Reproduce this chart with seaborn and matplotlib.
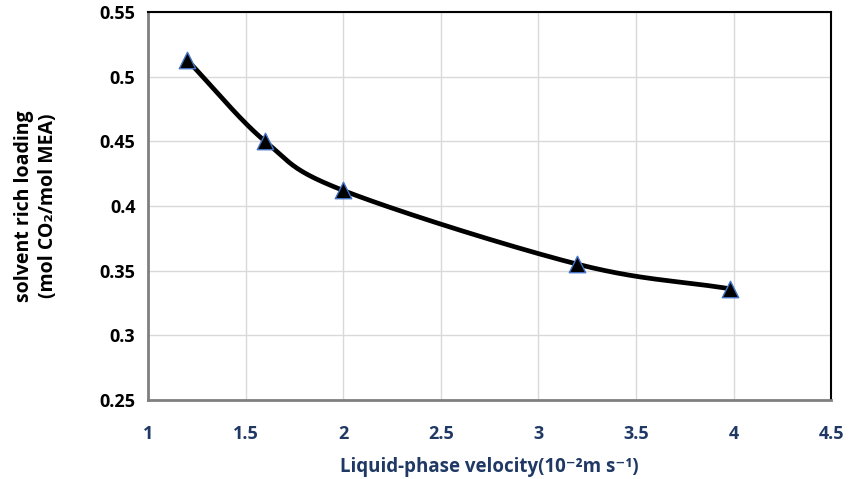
import numpy as np
import pandas as pd
import matplotlib
matplotlib.use("Agg")
import matplotlib.pyplot as plt
import seaborn as sns

# Measured data
velocity = [1.2, 1.6, 2.0, 3.2, 3.98]
rich_loading = [0.513, 0.450, 0.412, 0.355, 0.336]

x_ticks = [1, 1.5, 2, 2.5, 3, 3.5, 4, 4.5]
y_ticks = [0.25, 0.3, 0.35, 0.4, 0.45, 0.5, 0.55]


def catmull_rom(xs, ys, n=40):
    """Smooth curve through the points (uniform Catmull-Rom)."""
    pts = np.column_stack([xs, ys]).astype(float)
    p = np.vstack([2 * pts[0] - pts[1], pts, 2 * pts[-1] - pts[-2]])
    out = []
    for i in range(1, len(p) - 2):
        p0, p1, p2, p3 = p[i - 1], p[i], p[i + 1], p[i + 2]
        t = np.linspace(0, 1, n, endpoint=False)[:, None]
        seg = 0.5 * ((2 * p1) + (-p0 + p2) * t + (2 * p0 - 5 * p1 + 4 * p2 - p3) * t ** 2
                     + (-p0 + 3 * p1 - 3 * p2 + p3) * t ** 3)
        out.append(seg)
    out.append(pts[-1][None, :])
    return np.vstack(out)


sns.set_theme(style="white")
plt.rcParams["font.family"] = ["Open Sans", "DejaVu Sans"]

curve = catmull_rom(velocity, rich_loading)
curve_df = pd.DataFrame({"v": curve[:, 0], "load": curve[:, 1]})
pts_df = pd.DataFrame({"v": velocity, "load": rich_loading})

fig = plt.figure(figsize=(8.49, 4.79), dpi=100)
ax = fig.add_axes([0.1743, 0.165, 0.8047, 0.81])

sns.lineplot(data=curve_df, x="v", y="load", ax=ax, color="black", linewidth=3.4,
             sort=False, estimator=None, zorder=3)
sns.scatterplot(data=pts_df, x="v", y="load", ax=ax, marker="^", s=140,
                color="black", edgecolor="#4472C4", linewidth=1.0, zorder=4)

ax.set_xlim(1, 4.5)
ax.set_ylim(0.25, 0.55)
ax.set_xticks(x_ticks)
ax.set_yticks(y_ticks)
ax.set_xticklabels([f"{t:g}" for t in x_ticks], fontsize=13, fontweight="bold", color="#1F3864")
ax.set_yticklabels([f"{t:g}" for t in y_ticks], fontsize=13, fontweight="bold", color="black")
ax.tick_params(axis="x", length=0, pad=18)
ax.tick_params(axis="y", length=0, pad=9)

ax.grid(True, color="#d9d9d9", linewidth=1.0)
ax.set_axisbelow(True)

for side in ("top", "right"):
    ax.spines[side].set_color("black")
    ax.spines[side].set_linewidth(1.5)
for side in ("left", "bottom"):
    ax.spines[side].set_color("#7f7f7f")
    ax.spines[side].set_linewidth(2.0)

ax.set_xlabel("Liquid-phase velocity(10\u207b\u00b2m s\u207b\u00b9)", fontsize=13.5, fontweight="bold",
              color="#1F3864", labelpad=10)
ax.set_ylabel("solvent rich loading\n(mol CO\u2082/mol MEA)", fontsize=14, fontweight="bold",
              color="black", labelpad=30, linespacing=1.25)

fig.savefig("out.png", dpi=100)
